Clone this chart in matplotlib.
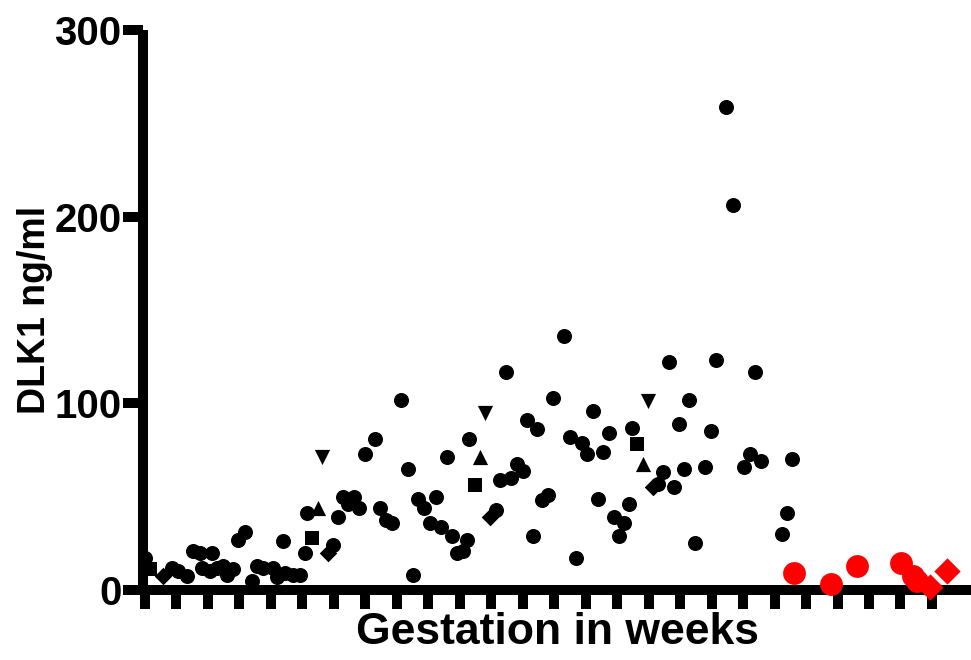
import matplotlib
matplotlib.use('Agg')
import matplotlib.pyplot as plt

# DLK1 serum levels against gestation.
# x is the position along the gestation axis (one unit per tick), y in ng/ml.

circleX = [0.00, 0.86, 1.05, 1.33, 1.52, 1.75, 2.13, 1.81, 2.06, 2.29,
           2.48, 2.60, 2.80, 2.95, 3.18, 3.40, 3.56, 3.75, 4.07, 4.19,
           4.38, 4.45, 4.70, 4.92, 5.08, 5.15, 5.97, 6.13, 6.29, 6.45,
           6.64, 6.80, 6.99, 7.31, 7.47, 7.66, 7.85, 8.13, 8.35, 8.51,
           8.67, 8.86, 9.05, 9.24, 9.40, 9.59, 9.75, 9.91, 10.10, 10.23,
           10.29, 11.15, 11.47, 11.28, 11.63, 11.82, 12.01, 12.13, 12.45, 12.33,
           12.61, 12.80, 12.96, 13.31, 13.50, 13.88, 14.04, 13.69, 14.23, 14.55,
           14.74, 14.39, 14.90, 15.22, 15.06, 15.38, 15.47, 16.30, 16.45, 16.65,
           16.80, 16.96, 17.12, 17.28, 17.47, 17.79, 17.98, 18.14, 18.46, 18.68,
           19.03, 19.22, 19.57, 19.38, 20.55, 20.39, 20.24]
circleY = [17, 12, 10, 7.5, 21, 20, 20, 12, 10, 12,
           13, 8, 11, 27, 31, 5, 13, 12, 12, 7,
           26, 9, 8, 8, 20, 41, 24, 39, 50, 46,
           50, 44, 73, 81, 44, 37.5, 36, 102, 65, 8,
           49, 44, 36, 50, 34, 71, 29, 20, 21, 27,
           81, 43, 117, 59, 60, 67.5, 64, 91, 86, 29,
           48, 51, 103, 136, 82, 79, 73, 17, 96, 74,
           84, 49, 39, 36, 29, 46, 87, 57, 63, 122,
           55, 89, 65, 102, 25, 66, 85, 123, 259, 206,
           66, 73, 69, 117, 70, 41, 30]

squareX = [0.16, 5.30, 10.48, 15.63]
squareY = [11, 28, 56, 78]
triUpX = [5.50, 10.64, 15.82]
triUpY = [44, 71, 67.5]
triDownX = [5.62, 10.80, 15.98]
triDownY = [71, 95, 101]
diamondX = [0.57, 5.81, 10.96, 16.14]
diamondY = [7.5, 20, 39, 55]

redCircleX = [20.62, 21.79, 22.62, 24.02, 24.40, 24.52]
redCircleY = [9, 3, 13, 14.5, 7.5, 5]
redDiamondX = [24.94, 25.48]
redDiamondY = [1.5, 10]

tickPositions = list(range(26))

plt.rcParams['font.family'] = ['Liberation Sans', 'DejaVu Sans']
plt.rcParams['font.weight'] = 'bold'

fig = plt.figure(figsize=(9.71, 6.6), dpi=100)
ax = fig.add_axes([143/971., 1 - 590/660., 1 - 143/971., (590 - 30)/660.])

kw = dict(color='black', linewidths=0, clip_on=False, zorder=4)
ax.scatter(circleX, circleY, s=117, marker='o', **kw)
ax.scatter(squareX, squareY, s=100, marker='s', **kw)
ax.scatter(triUpX, triUpY, s=120, marker='^', **kw)
ax.scatter(triDownX, triDownY, s=120, marker='v', **kw)
ax.scatter(diamondX, diamondY, s=80, marker='D', **kw)

kw['color'] = '#ff0000'
ax.scatter(redCircleX, redCircleY, s=270, marker='o', **kw)
ax.scatter(redDiamondX, redDiamondY, s=180, marker='D', **kw)

ax.set_xlim(-0.06, 26.24)
ax.set_ylim(0, 300)

ax.spines['top'].set_visible(False)
ax.spines['right'].set_visible(False)
for side in ['left', 'bottom']:
    ax.spines[side].set_linewidth(7.2)
    ax.spines[side].set_capstyle('butt')

ax.set_yticks([0, 100, 200, 300])
ax.set_yticklabels(['0', '100', '200', '300'], size=29, weight='bold')
ax.set_xticks(tickPositions)
ax.set_xticklabels([])
ax.tick_params(axis='y', direction='out', length=14.4, width=7.2, pad=1)
ax.tick_params(axis='x', direction='out', length=14, width=7.2)

ax.set_ylabel('DLK1 ng/ml', size=27, weight='bold', labelpad=1)
ax.set_xlabel('Gestation in weeks', size=32, weight='bold', labelpad=-2)

fig.savefig('out.png', dpi=100)
